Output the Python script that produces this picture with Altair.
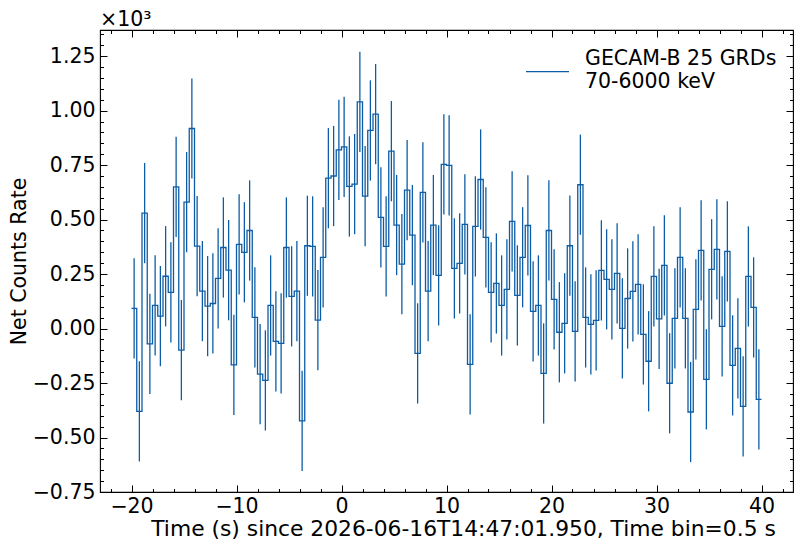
import pandas as pd
import altair as alt

# net rate per 0.5 s bin, in units of 10^3
bin_start = -20.0
bin_width = 0.5
rates = [
    0.093, -0.38, 0.53, -0.07, 0.106, 0.057, 0.24, 0.166, 0.65, -0.099,
    0.58, 0.918, 0.378, 0.172, 0.103, 0.115, 0.23, 0.372, 0.268, -0.167,
    0.386, 0.35, 0.45, 0.051, -0.209, -0.238, 0.106, -0.059, -0.068, 0.372,
    0.148, 0.172, -0.424, 0.38, 0.377, 0.039, 0.327, 0.69, 0.70, 0.82,
    0.834, 0.652, 0.663, 1.04, 0.608, 0.909, 0.984, 0.51, 0.377, 0.814,
    0.475, 0.296, 0.635, 0.429, -0.114, 0.625, 0.172, 0.475, 0.244, 0.753,
    0.749, 0.276, 0.299, 0.478, -0.164, 0.469, 0.684, 0.418, 0.166, 0.207,
    0.106, 0.18, 0.492, 0.152, 0.327, 0.473, 0.079, 0.106, -0.206, 0.45,
    0.134, -0.017, 0.024, 0.38, -0.013, 0.66, 0.051, 0.019, 0.038, 0.267,
    0.226, 0.18, 0.253, 0.001, 0.138, 0.171, 0.203, -0.027, -0.15, 0.239,
    0.044, 0.29, -0.251, 0.047, 0.327, 0.047, -0.383, 0.088, 0.359, -0.233,
    0.272, 0.363, 0.01, 0.354, -0.169, -0.091, -0.357, 0.239, 0.097, -0.325,
]
rate_err = 0.23

x_major = [-20, -10, 0, 10, 20, 30, 40]
x_minor = list(range(-22, 43, 2))
y_major = [-0.75, -0.5, -0.25, 0.0, 0.25, 0.5, 0.75, 1.0, 1.25]
y_minor = [round(-0.75 + 0.05 * i, 2) for i in range(43)]

legend_label = "GECAM-B 25 GRDs\n70-6000 keV"
x_title = "Time (s) since 2026-06-16T14:47:01.950, Time bin=0.5 s"
y_title = "Net Counts Rate"

COLOR = "#0C5DA5"
FONT = "DejaVu Sans"
FS = 20.5

edges = [bin_start + i * bin_width for i in range(len(rates) + 1)]
step_df = pd.DataFrame({"t": edges, "rate": rates + [rates[-1]]})
err_df = pd.DataFrame({
    "t_mid": [e + bin_width / 2 for e in edges[:-1]],
    "lo": [r - rate_err for r in rates],
    "hi": [r + rate_err for r in rates],
})

xs = alt.Scale(domain=[-23, 43], nice=False, zero=False)
ys = alt.Scale(domain=[-0.75, 1.37], nice=False, zero=False)


def x_axis(orient, values, size, labels=False, title=None):
    return alt.Axis(orient=orient, values=values, tickSize=size, offset=-size,
                    domain=False, grid=False, labels=labels, title=title,
                    format="d", labelFont=FONT, labelFontSize=FS, labelPadding=4,
                    titleFont=FONT, titleFontSize=21.8, titleFontWeight="normal",
                    titlePadding=1.5, titleX=363, titleAlign="center",
                    tickColor="black", labelColor="black", titleColor="black")


def y_axis(orient, values, size, labels=False, title=None):
    return alt.Axis(orient=orient, values=values, tickSize=size, offset=-size,
                    domain=False, grid=False, labels=labels, title=title,
                    format=".2f", labelFont=FONT, labelFontSize=FS, labelPadding=5,
                    titleFont=FONT, titleFontSize=FS, titleFontWeight="normal",
                    titlePadding=3, tickColor="black", labelColor="black",
                    titleColor="black")


step = alt.Chart(step_df).mark_line(interpolate="step-after", color=COLOR, strokeWidth=1.3).encode(
    x=alt.X("t:Q", scale=xs, axis=x_axis("bottom", x_major, 7, True, x_title)),
    y=alt.Y("rate:Q", scale=ys, axis=y_axis("left", y_major, 7, True, y_title)),
)

errs = alt.Chart(err_df).mark_rule(color=COLOR, strokeWidth=1.3).encode(
    x=alt.X("t_mid:Q", scale=xs, axis=x_axis("bottom", x_minor, 3.5)),
    y=alt.Y("lo:Q", scale=ys, axis=y_axis("left", y_minor, 3.5)),
    y2="hi:Q",
)

mirror_major = alt.Chart(step_df).mark_line(opacity=0).encode(
    x=alt.X("t:Q", scale=xs, axis=x_axis("top", x_major, 7)),
    y=alt.Y("rate:Q", scale=ys, axis=y_axis("right", y_major, 7)),
)

mirror_minor = alt.Chart(step_df).mark_line(opacity=0).encode(
    x=alt.X("t:Q", scale=xs, axis=x_axis("top", x_minor, 3.5)),
    y=alt.Y("rate:Q", scale=ys, axis=y_axis("right", y_minor, 3.5)),
)

legend_line = alt.Chart(pd.DataFrame({"k": [0]})).mark_rule(color=COLOR, strokeWidth=1.3).encode(
    x=alt.value(426), x2=alt.value(469), y=alt.value(41.7)
)
legend_text = alt.Chart(pd.DataFrame({"k": [0]})).mark_text(
    text=legend_label, lineBreak="\n", align="left", baseline="alphabetic",
    font=FONT, fontSize=FS, lineHeight=22.5, color="black"
).encode(x=alt.value(485), y=alt.value(35))

# page is 802 wide with an 8px body margin, so the svg must stay within 786 px
chart = alt.layer(
    mirror_major, mirror_minor, errs, step, legend_line, legend_text
).resolve_axis(x="independent", y="independent").properties(
    width=693, height=462,
    autosize=alt.AutoSizeParams(type="none"),
    padding={"left": 92, "top": 22, "right": 1, "bottom": 47},
    title=alt.TitleParams("×10³", anchor="start", frame="group", font=FONT,
                          fontSize=FS, fontWeight="normal", offset=-1, color="black"),
).configure_view(stroke="black", strokeWidth=1.1)

chart.save("out.html", embed_options={"renderer": "svg", "actions": False})
